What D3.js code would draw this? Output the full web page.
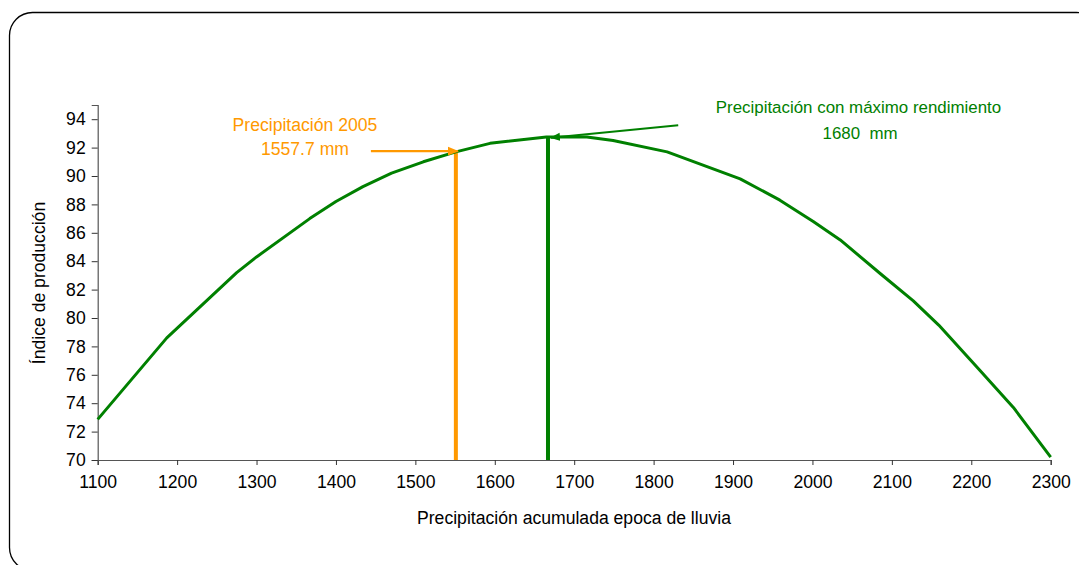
<!DOCTYPE html>
<html>
<head>
<meta charset="utf-8">
<script src="https://cdn.jsdelivr.net/npm/d3@7/dist/d3.min.js"></script>
<style>
  html, body { margin: 0; padding: 0; background: #fff; }
  svg { display: block; }
  text { font-family: "Liberation Sans", Arial, sans-serif; }
</style>
</head>
<body>
<svg id="chart" width="1079" height="565"></svg>
<script>
// ---- data ----
const rainfall = [1100, 1187, 1275, 1300, 1367, 1400, 1434, 1470, 1510, 1551, 1594, 1665, 1716, 1749, 1817, 1909, 1959, 2001, 2035, 2086, 2127, 2159, 2211, 2253, 2300];
const productionIndex = [72.86, 78.6, 83.2, 84.3, 87.0, 88.2, 89.25, 90.2, 91.0, 91.7, 92.3, 92.75, 92.75, 92.5, 91.7, 89.8, 88.3, 86.8, 85.5, 83.1, 81.2, 79.5, 76.3, 73.7, 70.2];
const xTicks = [1100, 1200, 1300, 1400, 1500, 1600, 1700, 1800, 1900, 2000, 2100, 2200, 2300];
const yTicks = [70, 72, 74, 76, 78, 80, 82, 84, 86, 88, 90, 92, 94];
const rain2005 = 1551;        // drawn position of the 2005 marker
const rain2005Label = ["Precipitación 2005", "1557.7 mm"];
const rainMax = 1667;         // drawn position of the max-yield marker
const rainMaxLabel = ["Precipitación con máximo rendimiento", "1680  mm"];
const xTitle = "Precipitación acumulada epoca de lluvia";
const yTitle = "Índice de producción";

// ---- layout ----
(function () {
const svg = d3.select("#chart");
const mLeft = 97.7, mRight = 1050.7, mTop = 105, mBottom = 460;
const GREEN = "#008000", ORANGE = "#FF9900";
const FS = "17.6px";

const x = d3.scaleLinear().domain([1100, 2300]).range([mLeft, mRight]);
const y = d3.scaleLinear().domain([70, 95]).range([mBottom, mTop]);

// frame
svg.append("rect")
  .attr("x", 9.5).attr("y", 12.5)
  .attr("width", 1090).attr("height", 558)
  .attr("rx", 23).attr("ry", 23)
  .attr("fill", "none").attr("stroke", "#000").attr("stroke-width", 1.3);

// defs for arrows
const defs = svg.append("defs");
function arrow(id, color) {
  defs.append("marker")
    .attr("id", id).attr("viewBox", "0 0 10 10")
    .attr("refX", 9).attr("refY", 5)
    .attr("markerWidth", 5).attr("markerHeight", 5)
    .attr("markerUnits", "strokeWidth")
    .attr("orient", "auto")
    .append("path").attr("d", "M0,1 L10,5 L0,9 Z").attr("fill", color);
}
arrow("arrO", ORANGE);
arrow("arrG", GREEN);

// axes
const xAxis = d3.axisBottom(x).tickValues(xTicks).tickSize(5).tickPadding(11).tickFormat(d3.format("d"));
const yAxis = d3.axisLeft(y).tickValues(yTicks).tickSize(6).tickPadding(6).tickFormat(d3.format("d"));

const gx = svg.append("g").attr("transform", `translate(0,${mBottom})`).call(xAxis);
const gy = svg.append("g").attr("transform", `translate(${mLeft},0)`).call(yAxis);
[gx, gy].forEach(g => {
  g.select(".domain").attr("stroke", "#555").attr("stroke-width", 1.2);
  g.selectAll(".tick line").attr("stroke", "#333");
  g.selectAll("text").attr("fill", "#000").style("font-size", FS)
    .style("font-family", "'Liberation Sans', Arial, sans-serif");
});

// vertical marker lines
svg.append("line")
  .attr("x1", x(rain2005)).attr("x2", x(rain2005))
  .attr("y1", mBottom).attr("y2", y(91.65))
  .attr("stroke", ORANGE).attr("stroke-width", 4);
svg.append("line")
  .attr("x1", x(rainMax)).attr("x2", x(rainMax))
  .attr("y1", mBottom).attr("y2", y(92.75))
  .attr("stroke", GREEN).attr("stroke-width", 4);

// curve
const pts = rainfall.map((r, i) => [r, productionIndex[i]]);
svg.append("path")
  .datum(pts)
  .attr("fill", "none").attr("stroke", GREEN).attr("stroke-width", 3)
  .attr("stroke-linejoin", "round")
  .attr("d", d3.line().x(d => x(d[0])).y(d => y(d[1])).curve(d3.curveLinear));

// annotation arrows
svg.append("line")
  .attr("x1", x(1444)).attr("y1", y(91.75))
  .attr("x2", x(rain2005) + 2).attr("y2", y(91.75))
  .attr("stroke", ORANGE).attr("stroke-width", 2.2)
  .attr("marker-end", "url(#arrO)");
svg.append("line")
  .attr("x1", x(1831)).attr("y1", y(93.57))
  .attr("x2", x(rainMax) + 3).attr("y2", y(92.7))
  .attr("stroke", GREEN).attr("stroke-width", 2)
  .attr("marker-end", "url(#arrG)");

// annotation texts
const t1 = svg.append("text").attr("text-anchor", "middle").attr("fill", ORANGE).style("font-size", FS);
t1.append("tspan").attr("x", x(1361)).attr("y", 131).text(rain2005Label[0]);
t1.append("tspan").attr("x", x(1361)).attr("y", 155).text(rain2005Label[1]);

const t2 = svg.append("text").attr("text-anchor", "middle").attr("fill", GREEN)
  .style("font-size", "16.9px").style("white-space", "pre").attr("xml:space", "preserve");
t2.append("tspan").attr("x", x(2058)).attr("y", 113).text(rainMaxLabel[0]);
t2.append("tspan").attr("x", x(2060)).attr("y", 139).text(rainMaxLabel[1]);

// axis titles
svg.append("text")
  .attr("x", 574).attr("y", 524)
  .attr("text-anchor", "middle").attr("fill", "#000").style("font-size", FS)
  .text(xTitle);
svg.append("text")
  .attr("transform", `translate(45,283) rotate(-90)`)
  .attr("text-anchor", "middle").attr("fill", "#000").style("font-size", FS)
  .text(yTitle);
})();
</script>
</body>
</html>
